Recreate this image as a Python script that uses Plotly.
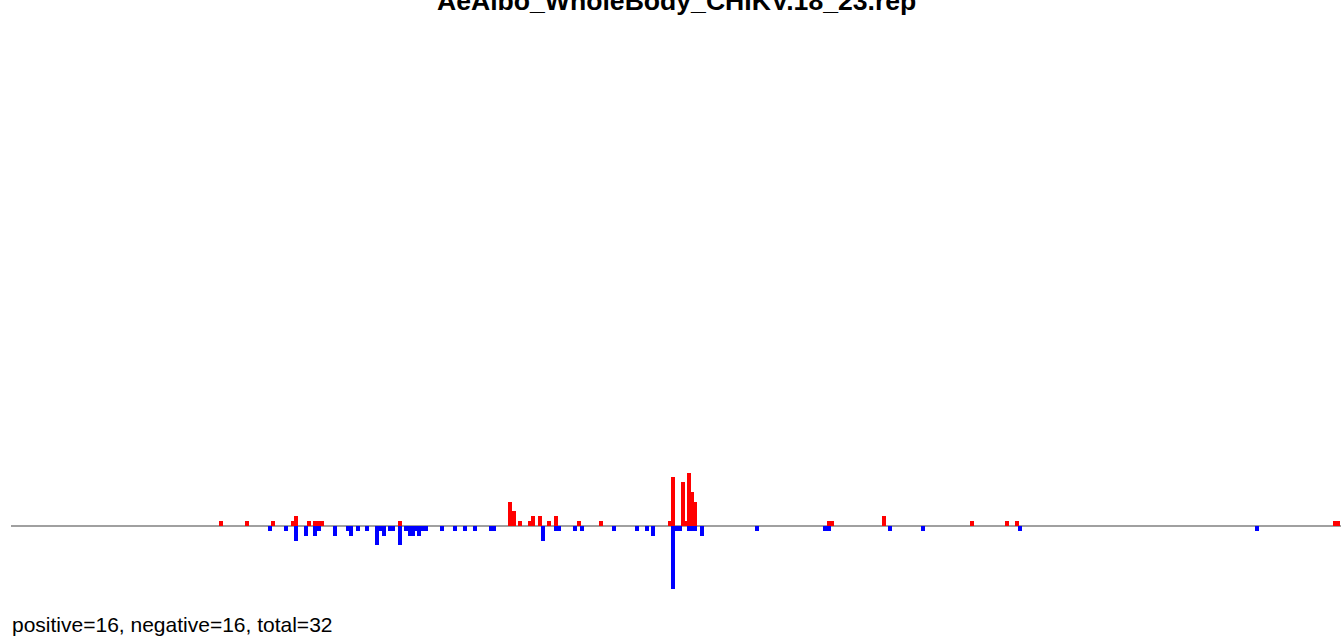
import plotly.graph_objects as go

title_text = "AeAlbo_WholeBody_CHIKV.18_23.rep"
summary_text = "positive=16, negative=16, total=32"
genome_length = 11970

pos_positions = [1890, 2124, 2358, 2534, 2565, 2682, 2736, 2768, 2799, 3501,
                 4491, 4527, 4581, 4667, 4698, 4761, 4842, 4905, 5112, 5310,
                 5927, 5958, 6048, 6075, 6102, 6134, 6161, 7362, 7394, 7857,
                 8649, 8964, 9054, 11916, 11948]
pos_counts = [1, 1, 1, 1, 2, 1, 1, 1, 1, 1,
              5, 3, 1, 1, 2, 2, 1, 2, 1, 1,
              1, 10, 9, 1, 11, 7, 5, 1, 1, 2,
              1, 1, 1, 1, 1]

neg_positions = [2331, 2475, 2565, 2655, 2736, 2772, 2916, 3029, 3060, 3123,
                 3204, 3294, 3326, 3357, 3407, 3438, 3501, 3555, 3587, 3618,
                 3645, 3672, 3708, 3740, 3879, 3996, 4086, 4176, 4320, 4352,
                 4788, 4905, 4937, 5076, 5139, 5427, 5634, 5724, 5778, 5958,
                 5994, 6021, 6102, 6134, 6161, 6219, 6714, 7326, 7362, 7911,
                 8208, 9081, 11214]
neg_counts = [1, 1, 3, 2, 2, 1, 2, 1, 2, 1,
              1, 4, 1, 2, 1, 1, 4, 1, 2, 2,
              1, 2, 1, 1, 1, 1, 1, 1, 1, 1,
              3, 1, 1, 1, 1, 1, 1, 1, 2, 13,
              1, 1, 1, 1, 1, 2, 1, 1, 1, 1,
              1, 1, 1]

bar_width = 32

fig = go.Figure()
fig.add_trace(go.Bar(x=pos_positions, y=pos_counts, width=bar_width,
                     marker=dict(color="#ff0000", line=dict(width=0)),
                     name="positive", showlegend=False))
fig.add_trace(go.Bar(x=neg_positions, y=[-c for c in neg_counts], width=bar_width,
                     marker=dict(color="#0000ff", line=dict(width=0)),
                     name="negative", showlegend=False))

fig.add_shape(type="line", xref="x", yref="y", x0=0, x1=genome_length, y0=0, y1=0,
              line=dict(color="#a0a0a0", width=2), layer="below")

fig.add_annotation(text="<b>" + title_text + "</b>", xref="paper", yref="paper",
                   x=0.5, y=1.0502, xanchor="center", yanchor="middle", showarrow=False,
                   font=dict(family="Liberation Sans, Arial, sans-serif", size=26.6, color="#000000"))
fig.add_annotation(text=summary_text, xref="paper", yref="paper",
                   x=-0.00075, y=-0.043, xanchor="left", yanchor="middle", showarrow=False,
                   font=dict(family="Liberation Sans, Arial, sans-serif", size=21, color="#000000"))

fig.update_layout(
    width=1341, height=638,
    margin=dict(l=11, r=0, t=30, b=38),
    paper_bgcolor="white", plot_bgcolor="white",
    barmode="overlay", bargap=0,
    xaxis=dict(range=[0, genome_length], visible=False, showgrid=False, zeroline=False),
    yaxis=dict(range=[-15.26, 102.27], visible=False, showgrid=False, zeroline=False),
)

fig.write_html("out.html", config={"displayModeBar": False},
               post_script="document.body.style.margin='0px';")
